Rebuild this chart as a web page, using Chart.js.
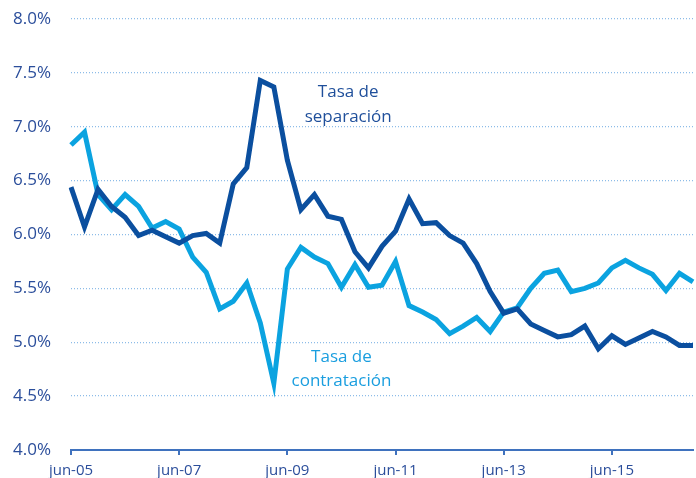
<!DOCTYPE html>
<html>
<head>
<meta charset="utf-8">
<script src="https://cdn.jsdelivr.net/npm/chart.js@4"></script>
<style>
  html, body { margin: 0; padding: 0; background: #fff; overflow: hidden; }
  canvas { display: block; }
</style>
</head>
<body>
<canvas id="chart" width="696" height="478"></canvas>
<script>
// quarters jun-05 .. dic-16
const months = ['mar', 'jun', 'sep', 'dic'];
const quarters = [];
for (let y = 5, m = 1; quarters.length < 47; ) {
  quarters.push(months[m] + '-' + String(y).padStart(2, '0'));
  m++;
  if (m > 3) { m = 0; y++; }
}

// Tasa de separación (%)
const separacion = [
  6.44, 6.07, 6.42, 6.26, 6.16, 5.99, 6.04, 5.98, 5.92, 5.99,
  6.01, 5.92, 6.47, 6.62, 7.43, 7.37, 6.69, 6.23, 6.37, 6.17,
  6.14, 5.84, 5.69, 5.89, 6.03, 6.33, 6.10, 6.11, 5.99, 5.92,
  5.73, 5.47, 5.27, 5.31, 5.17, 5.11, 5.05, 5.07, 5.15, 4.94,
  5.06, 4.98, 5.04, 5.10, 5.05, 4.97, 4.97
];

// Tasa de contratación (%)
const contratacion = [
  6.83, 6.95, 6.37, 6.23, 6.37, 6.26, 6.06, 6.12, 6.05, 5.79,
  5.65, 5.31, 5.38, 5.55, 5.18, 4.62, 5.68, 5.88, 5.79, 5.73,
  5.51, 5.72, 5.51, 5.53, 5.75, 5.34, 5.28, 5.21, 5.08, 5.15,
  5.23, 5.10, 5.28, 5.32, 5.50, 5.64, 5.67, 5.47, 5.50, 5.55,
  5.69, 5.76, 5.69, 5.63, 5.48, 5.64, 5.56
];

const yMin = 4, yMax = 8, yStep = 0.5;
const labelEvery = 8;

// text labels placed in data coordinates: [x index, y value]
const notes = [
  { lines: ['Tasa de', 'separación'], at: [20.5, 7.32], lineGap: 0.23, color: '#1F4F9B' },
  { lines: ['Tasa de', 'contratación'], at: [20.0, 4.86], lineGap: 0.22, color: '#1A9EDF' }
];

const DARK = '#0B4F9F';
const LIGHT = '#0BA3E0';
const FONT = "'Open Sans', sans-serif";

const notesPlugin = {
  id: 'notes',
  afterDatasetsDraw(chart) {
    const ctx = chart.ctx;
    const xs = chart.scales.x, ys = chart.scales.y;
    ctx.save();
    ctx.font = '17px ' + FONT;
    ctx.textAlign = 'center';
    ctx.textBaseline = 'middle';
    notes.forEach(n => {
      ctx.fillStyle = n.color;
      n.lines.forEach((t, i) => {
        const px = xs.getPixelForValue(n.at[0]);
        const py = ys.getPixelForValue(n.at[1] - i * n.lineGap);
        ctx.fillText(t, px, py);
      });
    });
    ctx.restore();
  }
};

new Chart(document.getElementById('chart'), {
  type: 'line',
  data: {
    labels: quarters,
    datasets: [
      { label: 'Tasa de separación', data: separacion, borderColor: DARK, borderWidth: 5,
        pointRadius: 0, tension: 0, fill: false, borderJoinStyle: 'miter' },
      { label: 'Tasa de contratación', data: contratacion, borderColor: LIGHT, borderWidth: 5,
        pointRadius: 0, tension: 0, fill: false, borderJoinStyle: 'miter' }
    ]
  },
  options: {
    responsive: false,
    animation: false,
    layout: { padding: { top: 19, right: 1, left: 0, bottom: 0 } },
    plugins: { legend: { display: false }, tooltip: { enabled: false } },
    scales: {
      x: {
        type: 'category',
        offset: false,
        afterFit(scale) { scale.height = 28; },
        border: { display: true, color: '#3F72BE', width: 2 },
        grid: {
          drawOnChartArea: false,
          drawTicks: true,
          tickLength: 5,
          lineWidth: 2,
          color: c => (c.index % labelEvery === 0 ? '#3F72BE' : 'transparent')
        },
        ticks: {
          autoSkip: false,
          maxRotation: 0,
          padding: 3,
          color: '#2B4E9B',
          font: { family: FONT, size: 15, lineHeight: 1.75 },
          callback: (v, i) => (i % labelEvery === 0 ? quarters[i] : '')
        }
      },
      y: {
        min: yMin,
        max: yMax,
        afterFit(scale) { scale.width = 71; },
        border: { display: false, dash: [1, 2] },
        grid: {
          drawTicks: true,
          tickLength: 18,
          tickColor: 'transparent',
          color: c => (c.tick && c.tick.value === yMin ? 'transparent' : '#8DBCE8'),
          lineWidth: 1.3
        },
        ticks: {
          stepSize: yStep,
          padding: 2,
          color: '#2B4E9B',
          font: { family: FONT, size: 17 },
          callback: v => v.toFixed(1) + '%'
        }
      }
    }
  },
  plugins: [notesPlugin]
});
</script>
</body>
</html>
